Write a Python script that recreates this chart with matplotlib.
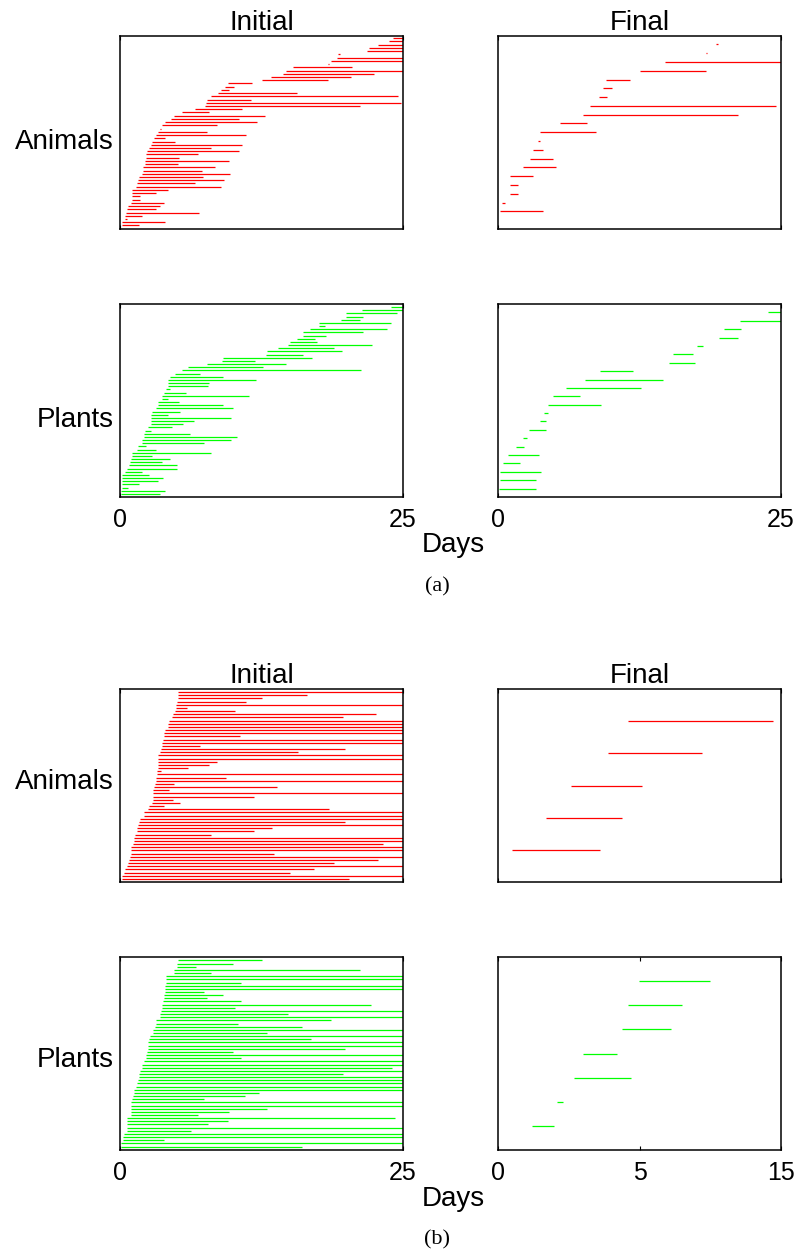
import matplotlib.pyplot as plt

# rows listed top to bottom, values in days
a_anim_init_start = [24.1, 23.8, 22.8, 22.0, 21.8, 19.3, 19.2, 18.6, 18.4, 15.3, 14.7, 14.4, 13.3, 12.5, 9.5,
                     9.3, 8.9, 8.7, 8.0, 7.7, 7.6, 7.5, 6.6, 5.5, 4.8, 4.5, 4.0, 3.7, 3.5, 3.4,
                     3.2, 3.0, 2.8, 2.7, 2.6, 2.4, 2.3, 2.3, 2.2, 2.2, 2.0, 2.0, 1.9, 1.7, 1.6,
                     1.5, 1.4, 1.1, 1.1, 1.1, 1.1, 1.0, 0.7, 0.6, 0.5, 0.4, 0.4, 0.2, 0.2]
a_anim_init_end = [25, 25, 25, 25, 25, 19.4, 25, 25, 18.5, 20.5, 25, 22.4, 20.4, 18.4, 11.7,
                   10.1, 9.6, 15.6, 24.6, 11.6, 24.8, 21.2, 10.8, 7.9, 12.8, 10.5, 12.1, 8.6, 3.6, 7.7,
                   11.1, 4.0, 4.9, 10.8, 8.0, 10.5, 6.9, 5.2, 9.6, 5.1, 8.4, 7.2, 9.7, 7.3, 9.2,
                   6.6, 8.9, 4.2, 3.2, 1.8, 1.8, 3.9, 3.5, 3.2, 7.0, 1.9, 0.6, 4.0, 1.7]

a_anim_final_start = [19.3, 18.4, 14.75, 12.5, 9.5, 9.3, 8.9, 8.1, 7.5, 5.5,
                      3.7, 3.5, 3.1, 2.8, 2.2, 1.1, 1.1, 1.1, 0.35, 0.2]
a_anim_final_end = [19.4, 18.5, 25, 18.4, 11.7, 10.1, 9.6, 24.6, 21.2, 7.9,
                    8.7, 3.7, 4.0, 4.9, 5.1, 3.1, 1.8, 1.8, 0.65, 4.0]

a_plant_init_start = [23.9, 21.4, 20.0, 20.0, 19.5, 17.6, 17.6, 16.8, 16.2, 16.2, 15.6, 15.0, 14.8, 14.0, 13.0,
                      12.9, 9.1, 9.0, 7.7, 6.0, 5.5, 4.9, 4.4, 4.2, 4.2, 4.2, 4.1, 3.9, 3.7, 3.7,
                      3.4, 3.4, 3.2, 2.8, 2.7, 2.7, 2.7, 2.7, 2.5, 2.2, 2.1, 2.1, 1.9, 1.9, 1.6,
                      1.5, 1.1, 1.1, 1.0, 0.9, 0.8, 0.6, 0.4, 0.2, 0.15, 0.15, 0.15, 0.15, 0.06, 0.06]
a_plant_init_end = [25, 25, 24.5, 21.5, 21.2, 23.9, 18.1, 23.6, 21.5, 18.2, 17.2, 17.4, 22.3, 18.9, 19.6,
                    16.2, 17.0, 11.9, 14.7, 12.6, 21.3, 7.1, 9.1, 12.0, 7.9, 7.8, 4.4, 5.8, 11.4, 4.2,
                    5.2, 9.1, 10.0, 5.3, 4.2, 9.8, 6.5, 5.6, 4.6, 2.7, 6.2, 10.3, 9.8, 7.4, 2.3,
                    3.2, 8.0, 2.8, 4.4, 3.7, 5.0, 5.0, 1.9, 2.6, 3.8, 3.4, 1.65, 0.7, 4.0, 3.5]

a_plant_final_start = [23.85, 21.4, 20.0, 19.5, 17.6, 15.5, 15.1, 9.0, 7.7, 6.0, 4.9,
                       4.4, 4.1, 3.7, 2.7, 2.2, 1.6, 0.9, 0.4, 0.15, 0.15, 0.06]
a_plant_final_end = [25, 25, 21.5, 21.2, 18.1, 17.2, 17.4, 11.9, 14.6, 12.6, 7.2,
                     9.1, 4.4, 4.2, 4.2, 2.6, 2.3, 3.65, 1.9, 3.8, 3.4, 3.4]

b_anim_init_start = [5.1, 5.1, 5.1, 5.0, 4.95, 4.95, 4.9, 4.7, 4.6, 4.3, 4.2, 4.2, 4.0, 3.9, 3.9,
                     3.8, 3.7, 3.7, 3.6, 3.5, 3.4, 3.4, 3.4, 3.4, 3.4, 3.3, 3.3, 3.2, 3.15, 3.1,
                     3.0, 2.95, 2.9, 2.9, 2.9, 2.8, 2.6, 2.5, 2.15, 2.1, 1.8, 1.7, 1.6, 1.5, 1.5,
                     1.3, 1.2, 1.2, 1.15, 1.0, 0.97, 0.97, 0.9, 0.8, 0.74, 0.6, 0.44, 0.35, 0.2, 0.15]
b_anim_init_end = [25, 16.5, 12.5, 11.1, 25, 5.9, 10.2, 22.6, 19.7, 25, 25, 25, 25, 25, 10.6,
                   25, 25, 7.1, 19.9, 15.7, 25, 25, 8.6, 7.9, 6.0, 3.6, 25, 9.4, 25, 4.8,
                   13.9, 4.3, 25, 11.8, 4.7, 5.3, 3.9, 18.5, 25, 25, 25, 19.9, 25, 13.4, 11.8,
                   8.0, 25, 25, 23.2, 25, 25, 13.6, 25, 22.8, 18.9, 25, 17.1, 15.0, 25, 20.2]

b_anim_final_start = [4.59, 3.90, 2.59, 1.70, 0.49]
b_anim_final_end = [9.71, 7.20, 5.10, 4.39, 3.59]

b_plant_init_start = [5.1, 5.0, 5.0, 4.8, 4.8, 4.1, 4.1, 4.1, 4.0, 4.0, 4.0, 3.9, 3.9, 3.8, 3.7,
                      3.7, 3.6, 3.5, 3.5, 3.2, 3.2, 3.1, 2.9, 2.9, 2.65, 2.6, 2.5, 2.45, 2.45, 2.4,
                      2.3, 2.3, 2.15, 1.9, 1.9, 1.8, 1.7, 1.7, 1.6, 1.5, 1.4, 1.2, 1.2, 1.15, 1.1,
                      1.0, 0.97, 0.97, 0.97, 0.97, 0.65, 0.65, 0.65, 0.6, 0.6, 0.35, 0.24, 0.24, 0.1, 0.06]
b_plant_init_end = [12.5, 10.0, 6.7, 21.2, 8.0, 25, 25, 10.7, 25, 25, 7.4, 9.1, 7.7, 10.7, 22.2,
                    10.2, 25, 14.8, 25, 18.6, 10.4, 16.1, 25, 13.0, 25, 16.9, 25, 25, 19.9, 10.0,
                    25, 10.7, 25, 25, 24.0, 25, 19.7, 25, 25, 25, 25, 25, 12.3, 11.0, 7.4,
                    25, 25, 13.0, 9.6, 6.9, 24.3, 9.5, 7.75, 25, 6.3, 25, 25, 3.9, 25, 16.1]

b_plant_final_start = [4.99, 4.59, 4.39, 3.00, 2.70, 2.10, 1.19]
b_plant_final_end = [7.49, 6.50, 6.10, 4.20, 4.70, 2.30, 1.99]

RED = "#ff0000"
GREEN = "#00ff00"

W, H = 798, 1253
fig = plt.figure(figsize=(W / 100, H / 100), dpi=100)
plt.rcParams['font.family'] = ['Liberation Sans', 'DejaVu Sans']


def panel(left, top, starts, ends, color, xmax, ylim, ticks, labels=None, title=None):
    ax = fig.add_axes([left / W, 1 - (top + 193) / H, 283 / W, 193 / H])
    n = len(starts)
    rows = list(range(n, 0, -1))
    ax.hlines(rows, starts, ends, colors=color, linewidth=0.9)
    ax.set_xlim(0, xmax)
    ax.set_ylim(*ylim)
    ax.set_yticks([])
    ax.set_xticks(ticks)
    if labels is None:
        ax.set_xticklabels([])
    else:
        ax.set_xticklabels(labels)
    ax.tick_params(axis='x', direction='in', top=True, length=3, width=0.8,
                   labelsize=18, pad=8)
    for s in ax.spines.values():
        s.set_linewidth(1.1)
    if title:
        ax.set_title(title, fontsize=20, pad=2)
    return ax


# (a)
panel(120, 36, a_anim_init_start, a_anim_init_end, RED, 25, (-0.1, 59.7), [0, 25], title="Initial")
panel(498, 36, a_anim_final_start, a_anim_final_end, RED, 25, (-1.0, 20.95), [0, 25], title="Final")
panel(120, 304, a_plant_init_start, a_plant_init_end, GREEN, 25, (0, 61), [0, 25], ["0", "25"])
panel(498, 304, a_plant_final_start, a_plant_final_end, GREEN, 25, (0, 23), [0, 25], ["0", "25"])

# (b)
panel(120, 689, b_anim_init_start, b_anim_init_end, RED, 25, (0, 61), [0, 25], title="Initial")
panel(498, 689, b_anim_final_start, b_anim_final_end, RED, 10, (0, 6), [0, 10], title="Final")
panel(120, 957, b_plant_init_start, b_plant_init_end, GREEN, 25, (-0.1, 61.1), [0, 25], ["0", "25"])
panel(498, 957, b_plant_final_start, b_plant_final_end, GREEN, 10, (0, 8), [0, 5, 10], ["0", "5", "15"])

# row labels
for txt, base in [("Animals", 149), ("Plants", 427), ("Animals", 789), ("Plants", 1067)]:
    fig.text(114 / W, 1 - base / H, txt, fontsize=20, ha='right', va='baseline')

for base in (552, 1206):
    fig.text(453 / W, 1 - base / H, "Days", fontsize=20, ha='center', va='baseline')

fig.text(437 / W, 1 - 587 / H, "(a)", fontsize=16, ha='center', va='center',
         family=['Liberation Serif', 'DejaVu Serif'])
fig.text(437 / W, 1 - 1240 / H, "(b)", fontsize=16, ha='center', va='center',
         family=['Liberation Serif', 'DejaVu Serif'])

fig.savefig("out.png", dpi=100)
